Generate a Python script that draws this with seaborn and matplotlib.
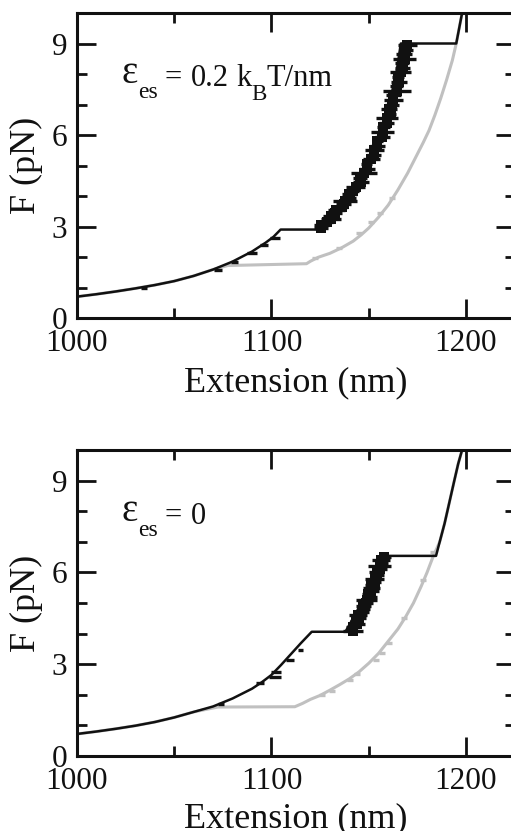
import matplotlib
matplotlib.use('Agg')
import matplotlib.pyplot as plt
import matplotlib.transforms as mtransforms
from matplotlib.ticker import FixedLocator
import seaborn as sns

sns.set_style('ticks')
plt.rcParams['font.family'] = ['Liberation Serif', 'DejaVu Serif']

# ---------------- data ----------------
x_ticks = [1000, 1100, 1200]
x_minor = [1050, 1150]
y_ticks = [0, 3, 6, 9]
y_minor = [1, 2, 4, 5, 7, 8]

# ---- top panel (eps_es = 0.2 kBT/nm) ----
top_black_x = [1000, 1010, 1020, 1030, 1040, 1050, 1060, 1070, 1080, 1090, 1097, 1101, 1104.7,
               1123.3, 1127, 1131, 1135, 1139, 1143, 1147, 1151, 1154, 1157, 1160, 1162.5,
               1164.5, 1166.5, 1195, 1198]
top_black_F = [0.70, 0.78, 0.87, 0.97, 1.08, 1.21, 1.38, 1.59, 1.85, 2.18, 2.47, 2.66, 2.90,
               2.90, 3.08, 3.32, 3.60, 3.92, 4.30, 4.75, 5.28, 5.75, 6.30, 6.95, 7.55,
               8.15, 9.00, 9.00, 10.0]
top_gray_x = [1000, 1010, 1020, 1030, 1040, 1050, 1060, 1070, 1077.5, 1118, 1120, 1124, 1130,
              1136, 1142, 1146, 1150, 1155, 1160, 1165, 1170, 1174, 1178, 1181, 1184, 1187,
              1190, 1193, 1195, 1198]
top_gray_F = [0.70, 0.78, 0.87, 0.97, 1.08, 1.21, 1.38, 1.59, 1.72, 1.78, 1.86, 1.99, 2.12,
              2.30, 2.52, 2.72, 2.95, 3.30, 3.70, 4.20, 4.75, 5.25, 5.75, 6.15, 6.65, 7.20,
              7.80, 8.45, 9.00, 10.0]

top_sparse_x = [1034.5, 1072.5, 1081, 1089.8, 1096, 1101.8]
top_sparse_F = [0.98, 1.58, 1.85, 2.13, 2.40, 2.62]
top_sparse_err = [1.5, 2.0, 2.0, 2.5, 2.0, 2.5]

top_band_x = [1125.5, 1125.7, 1128.4, 1130.6, 1130.7, 1132.9, 1133.3, 1136.4, 1137.1,
              1137.8, 1140.2, 1140.0, 1142.1, 1143.3, 1146.1, 1145.6, 1147.6, 1149.2,
              1148.9, 1151.3, 1152.8, 1152.9, 1154.5, 1154.5, 1157.0, 1157.2, 1157.5,
              1159.2, 1159.4, 1161.2, 1160.5, 1162.1, 1162.6, 1162.7, 1164.5, 1164.3,
              1165.5, 1164.9, 1166.4, 1167.4, 1167.1, 1168.4, 1168.1, 1169.2, 1169.9]
top_band_F = [2.95, 3.05, 3.15, 3.25, 3.35, 3.45, 3.55, 3.65, 3.75,
              3.85, 3.95, 4.05, 4.15, 4.30, 4.45, 4.60, 4.75, 4.90,
              5.05, 5.20, 5.35, 5.50, 5.65, 5.80, 5.95, 6.10, 6.25,
              6.40, 6.55, 6.70, 6.85, 7.00, 7.15, 7.30, 7.45, 7.60,
              7.75, 7.90, 8.05, 8.20, 8.35, 8.50, 8.65, 8.80, 8.95]
top_band_err = [3.5, 4.0, 3.0, 5.0, 4.0, 3.5, 4.5, 3.0, 4.0,
                6.0, 3.5, 4.0, 3.0, 5.0, 4.0, 3.5, 6.5, 4.0,
                3.0, 4.5, 3.5, 5.0, 4.0, 3.0, 4.0, 6.0, 3.5,
                4.0, 5.5, 3.0, 4.0, 3.5, 5.0, 4.0, 7.0, 3.5,
                4.0, 3.0, 5.5, 4.0, 3.5, 6.0, 4.0, 3.5, 5.0]
top_gray_dx = [1122.5, 1134.5, 1145, 1151, 1156, 1162]
top_gray_dF = [1.97, 2.30, 2.78, 3.16, 3.45, 3.92]
top_gray_err = [1.5, 1.5, 1.5, 1.5, 1.5, 1.5]

# ---- bottom panel (eps_es = 0) ----
bot_black_x = [1000, 1010, 1020, 1030, 1040, 1050, 1060, 1070, 1080, 1090, 1095, 1100, 1105,
               1110, 1115, 1120.7, 1138, 1142, 1146, 1150, 1154, 1158, 1184.6, 1186.5,
               1189, 1191.5, 1194, 1196, 1198]
bot_black_F = [0.72, 0.80, 0.89, 0.99, 1.11, 1.26, 1.44, 1.62, 1.88, 2.20, 2.41, 2.65, 2.98,
               3.33, 3.68, 4.06, 4.06, 4.50, 4.98, 5.50, 6.00, 6.54, 6.54, 7.00,
               7.60, 8.30, 9.00, 9.55, 10.0]
bot_gray_x = [1000, 1010, 1020, 1030, 1040, 1050, 1060, 1070, 1072.5, 1112, 1116, 1120, 1125,
              1130, 1135, 1140, 1145, 1150, 1155, 1160, 1165, 1169, 1173, 1177, 1180, 1183,
              1186.5, 1189, 1191.5, 1194, 1196, 1198]
bot_gray_F = [0.72, 0.80, 0.89, 0.99, 1.11, 1.26, 1.44, 1.57, 1.60, 1.61, 1.72, 1.85, 1.98,
              2.15, 2.33, 2.52, 2.75, 3.03, 3.35, 3.75, 4.15, 4.55, 5.00, 5.55, 6.00, 6.50,
              7.00, 7.60, 8.30, 9.00, 9.55, 10.0]

bot_sparse_x = [1074, 1094, 1101.7, 1102.5, 1109.7, 1114.9]
bot_sparse_F = [1.70, 2.38, 2.59, 2.75, 3.14, 3.46]
bot_sparse_err = [1.5, 2.0, 3.0, 2.5, 2.0, 1.5]

bot_band_x = [1141.9, 1141.7, 1143.9, 1143.5, 1145.1, 1144.6, 1146.4, 1147.6, 1147.2,
              1148.8, 1148.9, 1150.6, 1149.7, 1151.3, 1151.5, 1151.4, 1153.3, 1153.0,
              1154.4, 1154.1, 1155.9, 1155.6, 1156.6, 1156.4, 1157.7]
bot_band_F = [4.1, 4.2, 4.3, 4.4, 4.5, 4.6, 4.7, 4.8, 4.9,
              5.0, 5.1, 5.2, 5.3, 5.4, 5.5, 5.6, 5.7, 5.8,
              5.9, 6.0, 6.1, 6.2, 6.3, 6.4, 6.5]
bot_band_err = [5.0, 3.5, 4.0, 3.0, 3.5, 4.5, 3.5, 3.0, 4.0,
                3.5, 5.5, 3.5, 3.0, 4.0, 4.5, 3.5, 3.0, 5.0,
                3.5, 4.0, 3.5, 6.0, 3.5, 4.5, 3.5]
bot_gray_dx = [1126, 1131, 1140.5, 1144, 1153.6, 1157, 1160.4, 1168, 1177.7, 1183]
bot_gray_dF = [1.99, 2.13, 2.48, 2.68, 3.14, 3.36, 3.69, 4.50, 5.75, 6.68]
bot_gray_err = [1.5, 1.5, 1.5, 1.5, 1.5, 1.5, 1.5, 1.5, 1.5, 1.5]

GRAY = '#c0c0c0'
BLACK = '#111111'

fig = plt.figure(figsize=(5.11, 8.31), dpi=100)
W, H = 511.0, 831.0
ax1 = fig.add_axes([77 / W, 1 - 318 / H, (514.6 - 77) / W, (318 - 13) / H])
ax2 = fig.add_axes([77 / W, 1 - 756 / H, (514.6 - 77) / W, (756 - 450) / H])


def draw_panel(ax, bx, bF, gx, gF, sx, sF, se, dbx, dbF, dbe, dgx, dgF, dge):
    sns.lineplot(x=gx, y=gF, ax=ax, color=GRAY, lw=2.2, sort=False, estimator=None, zorder=2)
    ax.errorbar(dgx, dgF, xerr=dge, fmt='none', ecolor=GRAY, elinewidth=2.4, capsize=0, zorder=2.5)
    sns.lineplot(x=bx, y=bF, ax=ax, color=BLACK, lw=1.8, sort=False, estimator=None, zorder=3)
    ax.errorbar(sx, sF, xerr=se, fmt='none', ecolor=BLACK, elinewidth=2.4, capsize=0, zorder=4)
    ax.errorbar(dbx, dbF, xerr=dbe, fmt='none', ecolor=BLACK, elinewidth=2.4, capsize=0, zorder=4)
    sns.scatterplot(x=dbx, y=dbF, ax=ax, color=BLACK, marker='s', s=50, linewidth=0, zorder=4)
    ax.set_xlim(1000, 1225)
    ax.set_ylim(0, 10)
    ax.xaxis.set_major_locator(FixedLocator(x_ticks))
    ax.xaxis.set_minor_locator(FixedLocator(x_minor))
    ax.yaxis.set_major_locator(FixedLocator(y_ticks))
    ax.yaxis.set_minor_locator(FixedLocator(y_minor))
    ax.tick_params(which='major', direction='in', length=14, width=2.0,
                   top=True, right=True, labelsize=22.5, colors=BLACK)
    ax.tick_params(which='minor', direction='in', length=7, width=2.0,
                   top=True, right=True, colors=BLACK)
    ax.tick_params(axis='x', which='major', pad=8)
    ax.tick_params(axis='y', which='major', pad=7)
    for sp in ax.spines.values():
        sp.set_linewidth(2.2)
        sp.set_color(BLACK)
        sp.set_visible(True)
    ax.set_xlabel('Extension (nm)', fontsize=26, color=BLACK)
    ax.set_ylabel('F (pN)', fontsize=26, color=BLACK)
    ax.yaxis.set_label_coords(-0.078, 0.5)


draw_panel(ax1, top_black_x, top_black_F, top_gray_x, top_gray_F,
           top_sparse_x, top_sparse_F, top_sparse_err,
           top_band_x, top_band_F, top_band_err,
           top_gray_dx, top_gray_dF, top_gray_err)
draw_panel(ax2, bot_black_x, bot_black_F, bot_gray_x, bot_gray_F,
           bot_sparse_x, bot_sparse_F, bot_sparse_err,
           bot_band_x, bot_band_F, bot_band_err,
           bot_gray_dx, bot_gray_dF, bot_gray_err)
ax1.xaxis.set_label_coords(0.5, -0.16)
ax2.xaxis.set_label_coords(0.5, -0.15)
ax1.xaxis.label.set_va('top')
ax2.xaxis.label.set_va('top')

fig.canvas.draw()
renderer = fig.canvas.get_renderer()


def rich_text(ax, x, y, pieces):
    """pieces: (text, fontsize, dy_px, gap_px_before)"""
    off = 0.0
    for s, size, dy, gap in pieces:
        off += gap
        tr = mtransforms.offset_copy(ax.transData, fig=fig, x=off, y=dy, units='dots')
        t = ax.text(x, y, s, fontsize=size, transform=tr, ha='left', va='baseline', color=BLACK)
        off += t.get_window_extent(renderer).width


rich_text(ax1, 1023, 7.6, [('ε', 28, 3, 0), ('es', 17, -12, 0), ('=', 22, 0, 7),
                           ('0.2', 22, 0, 9), ('k', 22, 0, 7), ('B', 16.5, -14, 0),
                           ('T/nm', 22, 0, 0)])
rich_text(ax2, 1023, 7.58, [('ε', 28, 3, 0), ('es', 17, -12, 0), ('=', 22, 0, 7),
                            ('0', 22, 0, 9)])

fig.savefig('out.png', dpi=100)
